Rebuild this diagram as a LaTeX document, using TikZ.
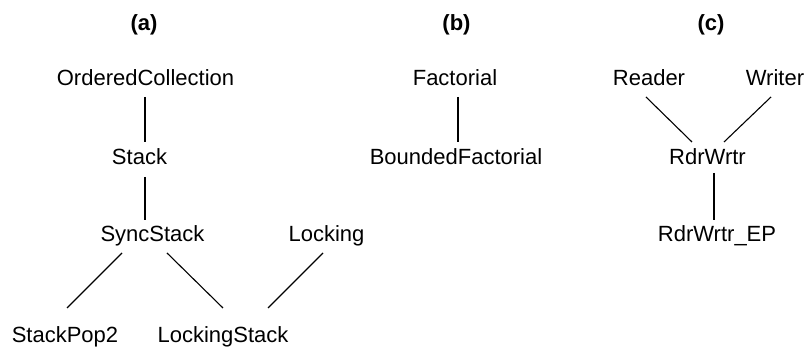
\documentclass[tikz,border=0pt]{standalone}
\usepackage{fontspec}
\setmainfont{Liberation Sans}
\begin{document}
\begin{tikzpicture}[x=1pt,y=1pt,
  cls/.style={anchor=base,inner sep=0pt,font=\fontsize{22pt}{26pt}\selectfont},
  lbl/.style={anchor=base,inner sep=0pt,font=\fontsize{22pt}{26pt}\selectfont\bfseries},
  link/.style={draw=black,line width=1.1pt}]
\useasboundingbox (0,0) rectangle (807,347);
% labels
\node[lbl] (la) at (144,316) {(a)};
\node[lbl] (lb) at (456.5,316) {(b)};
\node[lbl] (lc) at (711,316) {(c)};
% (a)
\node[cls] (oc) at (145.5,261) {OrderedCollection};
\node[cls] (stack) at (139.5,182) {Stack};
\node[cls] (sync) at (152.5,105) {SyncStack};
\node[cls] (locking) at (326.5,105) {Locking};
\node[cls] (pop) at (65,4) {StackPop2};
\node[cls] (lstack) at (223,4) {LockingStack};
% (b)
\node[cls] (fact) at (455,261) {Factorial};
\node[cls] (bfact) at (456,182) {BoundedFactorial};
% (c)
\node[cls] (reader) at (649,261) {Reader};
\node[cls] (writer) at (775,261) {Writer};
\node[cls] (rw) at (707.5,182) {RdrWrtr};
\node[cls] (ep) at (717,105) {RdrWrtr\_EP};
% connectors
\draw[link] ([shift={(-0.5,-11)}]oc.base) -- ([shift={(5.5,23)}]stack.base);
\draw[link] ([shift={(5.5,-12)}]stack.base) -- ([shift={(-7.5,22)}]sync.base);
\draw[link] ([shift={(-30.5,-11)}]sync.base) -- ([shift={(2,35)}]pop.base);
\draw[link] ([shift={(14.5,-11)}]sync.base) -- ([shift={(0,35)}]lstack.base);
\draw[link] ([shift={(-3.5,-11)}]locking.base) -- ([shift={(45,35)}]lstack.base);
\draw[link] ([shift={(3,-11)}]fact.base) -- ([shift={(2,23)}]bfact.base);
\draw[link] ([shift={(-3,-11)}]reader.base) -- ([shift={(-15.5,23)}]rw.base);
\draw[link] ([shift={(-4,-11)}]writer.base) -- ([shift={(16.5,23)}]rw.base);
\draw[link] ([shift={(6.5,-8)}]rw.base) -- ([shift={(-3,22)}]ep.base);
\end{tikzpicture}
\end{document}
